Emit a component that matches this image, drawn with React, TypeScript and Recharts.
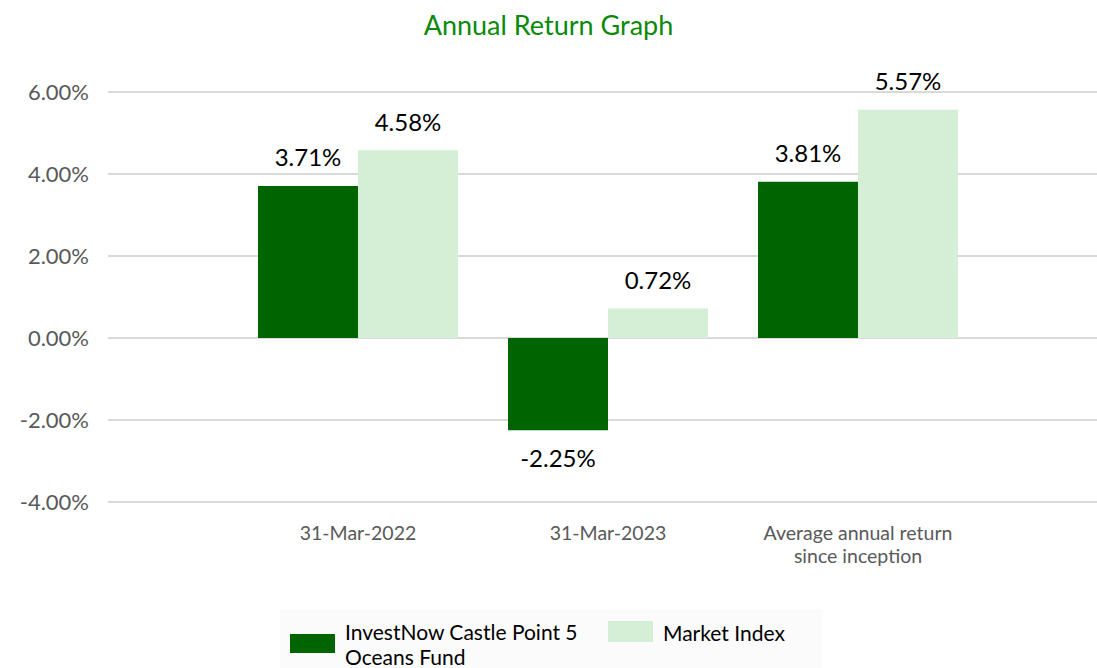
import React from "react";
import { BarChart, Bar, XAxis, YAxis, CartesianGrid, LabelList } from "recharts";

const categories = ["31-Mar-2022", "31-Mar-2023", "Average annual return since inception"];
const categoryLines: Record<string, string[]> = {
  "31-Mar-2022": ["31-Mar-2022"],
  "31-Mar-2023": ["31-Mar-2023"],
  "Average annual return since inception": ["Average annual return", "since inception"],
};
const fundValues = [3.71, -2.25, 3.81];
const indexValues = [4.58, 0.72, 5.57];
const yTicks = [-4, -2, 0, 2, 4, 6];
const fundName = "InvestNow Castle Point 5 Oceans Fund";
const indexName = "Market Index";
const title = "Annual Return Graph";

const data = categories.map((c, i) => ({ category: c, fund: fundValues[i], index: indexValues[i] }));

const DARK = "#006400";
const LIGHT = "#d4efd5";
const FONT = "Lato, 'Noto Sans', sans-serif";

const ValueLabel = (props: any) => {
  const { x, y, width, height, value } = props;
  const top = Math.min(y, y + height);
  const bottom = Math.max(y, y + height);
  const cx = x + width / 2;
  const ty = value >= 0 ? top - 19.5 : bottom + 36.5;
  return (
    <text x={cx} y={ty} textAnchor="middle" fontSize={24} fill="#000" fontFamily={FONT}>
      {Number(value).toFixed(2) + "%"}
    </text>
  );
};

const XTick = (props: any) => {
  const { x, y, payload } = props;
  const lines = categoryLines[payload.value] || [String(payload.value)];
  return (
    <text x={x} y={y} textAnchor="middle" fontSize={19.5} fill="#595959" fontFamily={FONT}>
      {lines.map((l, i) => (
        <tspan key={i} x={x} dy={i === 0 ? 13.5 : 23}>{l}</tspan>
      ))}
    </text>
  );
};

const LegendBox = () => (
  <div style={{ position: "absolute", left: 280, top: 609, width: 542, height: 59, background: "#fbfbfb", fontFamily: FONT, fontSize: 21, color: "#000" }}>
    <div style={{ position: "absolute", left: 10, top: 25, width: 45, height: 19, background: DARK }} />
    <div style={{ position: "absolute", left: 65, top: 10, width: 250, lineHeight: "25px" }}>{fundName}</div>
    <div style={{ position: "absolute", left: 328, top: 12, width: 45, height: 21, background: LIGHT }} />
    <div style={{ position: "absolute", left: 383, top: 11, lineHeight: "25px", whiteSpace: "nowrap" }}>{indexName}</div>
  </div>
);

export default function App() {
  return (
    <div style={{ position: "absolute", left: 0, top: 0, width: 1097, height: 668, background: "#fff", overflow: "hidden" }}>
      <div style={{ position: "absolute", left: 0, top: 8, width: 1097, textAlign: "center", fontFamily: FONT, fontSize: 27, color: "#0a8a0a" }}>
        {title}
      </div>
      <BarChart width={1097} height={668} data={data} margin={{ top: 92, right: 0, bottom: 136, left: 8 }} barGap={0} barCategoryGap="10%">
        <CartesianGrid vertical={false} stroke="#d9d9d9" strokeWidth={2} />
        <XAxis dataKey="category" height={30} axisLine={false} tickLine={false} tickSize={0} tickMargin={24} padding={{ left: 125, right: 114 }} tick={<XTick />} interval={0} />
        <YAxis width={100} domain={[-4, 6]} ticks={yTicks} axisLine={false} tickLine={false} tickSize={0} tickMargin={19}
          tickFormatter={(v: number) => v.toFixed(2) + "%"} tick={{ fontSize: 22, fill: "#595959", fontFamily: FONT }} />
        <Bar dataKey="fund" name={fundName} fill={DARK} isAnimationActive={false}>
          <LabelList dataKey="fund" content={<ValueLabel />} />
        </Bar>
        <Bar dataKey="index" name={indexName} fill={LIGHT} isAnimationActive={false}>
          <LabelList dataKey="index" content={<ValueLabel />} />
        </Bar>
      </BarChart>
      <LegendBox />
    </div>
  );
}
